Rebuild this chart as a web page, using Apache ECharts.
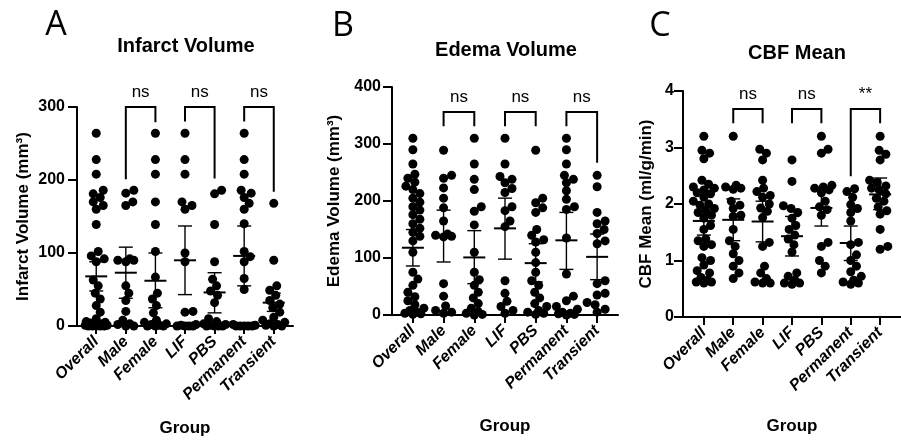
<!DOCTYPE html>
<html>
<head>
<meta charset="utf-8">
<script src="https://cdn.jsdelivr.net/npm/echarts@6/dist/echarts.min.js"></script>
<style>
  html, body { margin: 0; padding: 0; background: #fff; }
  #chart { width: 901px; height: 440px; }
</style>
</head>
<body>
<div id="chart"></div>
<script>
// Groups shown on every panel's x axis
const categories = ['Overall', 'Male', 'Female', 'LIF', 'PBS', 'Permanent', 'Transient'];

// Individual animals per group, infarct volume (mm³)
const infarctPoints = [
  [264, 228, 208, 186, 181, 176, 170, 165, 160, 139, 102, 96, 92, 88, 63, 55, 45, 37, 28, 19, 10, 6, 5, 4, 3, 2, 2, 1, 1, 0, 0, 0, 0, 0],
  [186, 182, 170, 165, 92, 90, 90, 88, 55, 45, 35, 20, 8, 3, 2, 0, 0],
  [264, 228, 208, 170, 139, 102, 67, 45, 37, 28, 18, 8, 5, 3, 2, 1, 0, 0, 0],
  [264, 228, 208, 170, 165, 160, 100, 88, 20, 19, 2, 1, 0, 0, 0, 0],
  [186, 181, 139, 88, 64, 55, 48, 42, 32, 10, 6, 3, 2, 1, 0, 0, 0, 0],
  [264, 228, 208, 186, 182, 176, 168, 160, 140, 102, 95, 88, 65, 50, 2, 1, 0, 0, 0, 0, 0],
  [168, 90, 55, 49, 42, 35, 30, 25, 19, 12, 8, 5, 3, 2, 1, 0, 0]
];
const infarctMean = [68, 73, 62, 90, 46, 96, 32];
const infarctLow  = [48, 38, 25, 43, 18, 55, 20];
const infarctHigh = [88, 108, 100, 137, 73, 137, 45];

// Edema volume (mm³)
const edemaPoints = [
  [310, 290, 265, 247, 240, 233, 226, 220, 213, 205, 198, 190, 184, 176, 168, 160, 152, 145, 138, 130, 110, 75, 63, 52, 40, 32, 25, 18, 12, 8, 5, 3, 2, 1],
  [289, 245, 240, 223, 205, 188, 165, 142, 140, 138, 137, 55, 33, 16, 8, 5, 3],
  [310, 265, 238, 220, 190, 182, 158, 110, 75, 62, 52, 40, 30, 20, 12, 6, 3, 1, 0],
  [310, 265, 243, 238, 232, 222, 215, 190, 183, 165, 155, 60, 38, 24, 15, 8, 3],
  [289, 205, 197, 188, 180, 150, 140, 132, 128, 110, 92, 75, 60, 52, 40, 30, 20, 15, 8, 5, 3, 1],
  [310, 290, 265, 245, 238, 232, 218, 203, 190, 185, 135, 72, 33, 25, 15, 10, 5, 3, 2, 1, 0],
  [245, 225, 180, 165, 160, 150, 143, 130, 125, 60, 55, 38, 35, 22, 18, 10, 5]
];
const edemaMean = [118, 138, 101, 152, 91, 131, 102];
const edemaLow  = [86, 93, 55, 98, 58, 80, 62];
const edemaHigh = [150, 184, 148, 205, 125, 180, 142];

// Mean cerebral blood flow (ml/g/min)
const cbfPoints = [
  [3.2, 2.95, 2.9, 2.8, 2.42, 2.35, 2.3, 2.28, 2.25, 2.2, 2.18, 2.12, 2.05, 2.0, 1.98, 1.92, 1.88, 1.85, 1.8, 1.75, 1.62, 1.55, 1.38, 1.35, 1.28, 1.25, 1.05, 1.0, 0.92, 0.82, 0.78, 0.7, 0.65, 0.62, 0.62, 0.6],
  [3.2, 2.33, 2.3, 2.28, 2.26, 2.05, 1.98, 1.92, 1.8, 1.78, 1.55, 1.35, 1.25, 1.12, 1.0, 0.9, 0.78, 0.68],
  [2.97, 2.9, 2.78, 2.42, 2.28, 2.22, 2.15, 2.12, 2.0, 1.93, 1.87, 1.76, 1.32, 1.25, 0.9, 0.78, 0.68, 0.62, 0.6, 0.6],
  [2.78, 2.4, 1.97, 1.92, 1.85, 1.75, 1.62, 1.55, 1.45, 1.38, 1.28, 1.15, 0.78, 0.72, 0.65, 0.6, 0.6, 0.58],
  [3.2, 2.97, 2.9, 2.33, 2.3, 2.28, 2.25, 2.2, 2.05, 1.95, 1.9, 1.8, 1.32, 1.25, 1.0, 0.9, 0.78],
  [2.27, 2.22, 2.12, 1.99, 1.92, 1.85, 1.7, 1.32, 1.28, 1.1, 1.0, 0.9, 0.8, 0.72, 0.65, 0.62, 0.6, 0.58],
  [3.2, 2.95, 2.88, 2.78, 2.42, 2.38, 2.32, 2.28, 2.25, 2.18, 2.1, 2.05, 1.95, 1.88, 1.82, 1.55, 1.25, 1.2]
];
const cbfMean = [1.70, 1.72, 1.69, 1.43, 1.93, 1.31, 2.17];
const cbfLow  = [1.45, 1.35, 1.33, 1.08, 1.61, 1.00, 1.90];
const cbfHigh = [1.95, 2.09, 2.05, 1.78, 2.25, 1.61, 2.46];

// Pairwise comparisons: group indices, bracket height, leg ends, result
const comparePairs = [[1, 2], [3, 4], [5, 6]];
const infarctBracketTop = 300;
const infarctBracketLegs = [[201, 279], [280, 202], [280, 184]];
const infarctSig = ['ns', 'ns', 'ns'];
const edemaBracketTop = 356;
const edemaBracketLegs = [[331, 331], [331, 331], [331, 267]];
const edemaSig = ['ns', 'ns', 'ns'];
const cbfBracketTop = 3.68;
const cbfBracketLegs = [[3.43, 3.43], [3.43, 3.43], [2.49, 3.43]];
const cbfSig = ['ns', 'ns', '**'];

// Y axis ranges / tick steps
const infarctTicks = [0, 300, 100];
const edemaTicks = [0, 400, 100];
const cbfTicks = [0, 4, 1];

const FONT = '"Liberation Sans", Arial, sans-serif';
const catIdx = categories.map((_, i) => i);

// Panel geometry (pixels) and x extents
const panels = [
  { left: 77,  top: 107, width: 216,   height: 219, xMin: -0.65, xMax: 6.65 },
  { left: 392, top: 87,  width: 226,   height: 229, xMin: -0.68, xMax: 6.68 },
  { left: 683, top: 91,  width: 228.5, height: 227, xMin: -0.71, xMax: 6.71 }
];

const DOT = 9;

// Beeswarm spread: dots that would collide get nudged sideways, alternating sides
function swarm(values, catIndex, pxY, pxX) {
  const sorted = values.slice().sort((a, b) => a - b);
  const placed = [];
  const out = [];
  const minDist = 7.6, maxOff = 11;
  for (const v of sorted) {
    const y = v * pxY;
    let best = 0, bestScore = -1;
    for (let k = 0; k <= 2 * maxOff; k++) {
      const off = (k % 2 ? 1 : -1) * Math.ceil(k / 2);
      let minD = Infinity;
      for (const p of placed) {
        const d = Math.hypot(p[0] - off, p[1] - y);
        if (d < minD) minD = d;
      }
      if (minD >= minDist) { best = off; bestScore = Infinity; break; }
      if (minD > bestScore) { bestScore = minD; best = off; }
    }
    placed.push([best, y]);
    out.push([catIndex + best / pxX, v]);
  }
  return out;
}

function scatterSeries(g, points, ticks) {
  const p = panels[g];
  const pxY = p.height / (ticks[1] - ticks[0]);
  const pxX = p.width / (p.xMax - p.xMin);
  let data = [];
  points.forEach((vals, i) => { data = data.concat(swarm(vals, i, pxY, pxX)); });
  return {
    type: 'scatter', xAxisIndex: g, yAxisIndex: g, data,
    symbol: 'circle', symbolSize: DOT, clip: false, z: 3,
    itemStyle: { color: '#000', opacity: 1 }, silent: true
  };
}

function errorSeries(g, mean, lo, hi) {
  return {
    type: 'custom', xAxisIndex: g, yAxisIndex: g, clip: false, z: 5, silent: true,
    data: mean.map((m, i) => [i, m, lo[i], hi[i]]),
    encode: { x: 0, y: [1, 2, 3] },
    renderItem(params, api) {
      const x = api.value(0);
      const pm = api.coord([x, api.value(1)]);
      const pl = api.coord([x, api.value(2)]);
      const ph = api.coord([x, api.value(3)]);
      const thin = { stroke: '#000', lineWidth: 1.4 };
      const cx = pm[0];
      return {
        type: 'group',
        children: [
          { type: 'line', shape: { x1: cx, y1: pl[1], x2: cx, y2: ph[1] }, style: thin },
          { type: 'line', shape: { x1: cx - 7, y1: pl[1], x2: cx + 7, y2: pl[1] }, style: thin },
          { type: 'line', shape: { x1: cx - 7, y1: ph[1], x2: cx + 7, y2: ph[1] }, style: thin },
          { type: 'line', shape: { x1: cx - 11, y1: pm[1], x2: cx + 11, y2: pm[1] }, style: { stroke: '#000', lineWidth: 2 } }
        ]
      };
    }
  };
}

function bracketSeries(g, top, legs, sig) {
  return {
    type: 'custom', xAxisIndex: g, yAxisIndex: g, clip: false, z: 6, silent: true,
    data: comparePairs.map((pr, i) => [pr[0], pr[1], top, legs[i][0], legs[i][1]]),
    encode: { x: [0, 1], y: [2, 3, 4] },
    renderItem(params, api) {
      const a = api.coord([api.value(0), api.value(2)]);
      const b = api.coord([api.value(1), api.value(2)]);
      const la = api.coord([api.value(0), api.value(3)]);
      const lb = api.coord([api.value(1), api.value(4)]);
      return {
        type: 'group',
        children: [
          { type: 'polyline', shape: { points: [[la[0], la[1]], [a[0], a[1]], [b[0], b[1]], [lb[0], lb[1]]] },
            style: { stroke: '#000', lineWidth: 2, fill: null } },
          { type: 'text', style: { text: sig[params.dataIndex], x: (a[0] + b[0]) / 2, y: a[1] - 6,
            align: 'center', verticalAlign: 'bottom', fontFamily: FONT, fontSize: 17, fill: '#000' } }
        ]
      };
    }
  };
}

function xAxisFor(g, nameGap) {
  const p = panels[g];
  return {
    type: 'value', gridIndex: g, min: p.xMin, max: p.xMax,
    name: 'Group', nameLocation: 'middle', nameGap,
    nameTextStyle: { fontFamily: FONT, fontWeight: 'bold', fontSize: 17, color: '#000' },
    axisLine: { show: true, onZero: false, lineStyle: { color: '#000', width: 2 } },
    axisTick: { show: true, customValues: catIdx, length: 8, lineStyle: { color: '#000', width: 2 } },
    axisLabel: {
      customValues: catIdx, formatter: v => categories[Math.round(v)] || '',
      rotate: 45, margin: 13, fontFamily: FONT, fontWeight: 'bold', fontStyle: 'italic',
      fontSize: 16, color: '#000'
    },
    splitLine: { show: false }
  };
}

function yAxisFor(g, ticks, name, nameGap, margin) {
  return {
    type: 'value', gridIndex: g, min: ticks[0], max: ticks[1], interval: ticks[2],
    name, nameLocation: 'middle', nameRotate: 90, nameGap,
    nameTextStyle: { fontFamily: FONT, fontWeight: 'bold', fontSize: 17, color: '#000' },
    axisLine: { show: true, onZero: false, lineStyle: { color: '#000', width: 2 } },
    axisTick: { show: true, length: 9, lineStyle: { color: '#000', width: 2 } },
    axisLabel: { margin, fontFamily: FONT, fontWeight: 'bold', fontSize: 16, color: '#000' },
    splitLine: { show: false }
  };
}

function headText(x, y, text, size, bold, family) {
  return { type: 'text', x, y, silent: true,
    style: { text, align: 'center', verticalAlign: 'middle', fontFamily: family,
      fontSize: size, fontWeight: bold ? 'bold' : 'normal', fill: '#000' } };
}

const chart = echarts.init(document.getElementById('chart'), null, { renderer: 'canvas' });
chart.setOption({
  animation: false,
  backgroundColor: '#fff',
  grid: panels.map(p => ({ left: p.left, top: p.top, width: p.width, height: p.height, containLabel: false })),
  xAxis: [xAxisFor(0, 94), xAxisFor(1, 103), xAxisFor(2, 101)],
  yAxis: [
    yAxisFor(0, infarctTicks, 'Infarct Volume (mm³)', 45, 12),
    yAxisFor(1, edemaTicks, 'Edema Volume (mm³)', 49, 11),
    yAxisFor(2, cbfTicks, 'CBF Mean (ml/g/min)', 28, 9)
  ],
  graphic: [
    headText(56, 25, 'A', 34, false, '"Open Sans", sans-serif'),
    headText(343, 26, 'B', 34, false, '"Open Sans", sans-serif'),
    headText(660, 26, 'C', 34, false, '"Open Sans", sans-serif'),
    headText(186, 46, 'Infarct Volume', 20, true, FONT),
    headText(506, 50, 'Edema Volume', 20, true, FONT),
    headText(797, 53, 'CBF Mean', 20, true, FONT)
  ],
  series: [
    scatterSeries(0, infarctPoints, infarctTicks),
    errorSeries(0, infarctMean, infarctLow, infarctHigh),
    bracketSeries(0, infarctBracketTop, infarctBracketLegs, infarctSig),
    scatterSeries(1, edemaPoints, edemaTicks),
    errorSeries(1, edemaMean, edemaLow, edemaHigh),
    bracketSeries(1, edemaBracketTop, edemaBracketLegs, edemaSig),
    scatterSeries(2, cbfPoints, cbfTicks),
    errorSeries(2, cbfMean, cbfLow, cbfHigh),
    bracketSeries(2, cbfBracketTop, cbfBracketLegs, cbfSig)
  ]
});
</script>
</body>
</html>
